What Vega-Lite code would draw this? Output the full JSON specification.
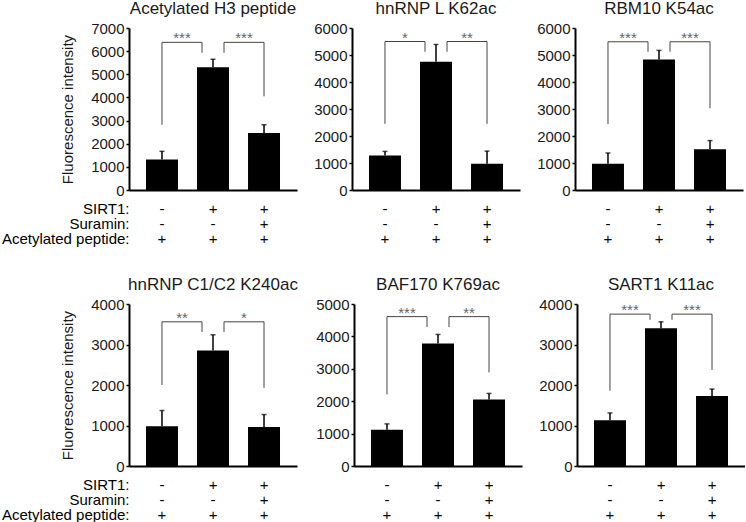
{
  "$schema": "https://vega.github.io/schema/vega-lite/v6.json",
  "background": "white",
  "padding": {"left": 1, "top": 0, "right": 0, "bottom": 0},
  "datasets": {
    "stats": [
      {"panel": "Acetylated H3 peptide", "kind": "bar", "condition": "control", "mean": 1320, "upper": 1670},
      {"panel": "Acetylated H3 peptide", "kind": "bar", "condition": "SIRT1", "mean": 5300, "upper": 5650},
      {"panel": "Acetylated H3 peptide", "kind": "bar", "condition": "SIRT1 + suramin", "mean": 2460, "upper": 2820},
      {"panel": "Acetylated H3 peptide", "kind": "bracket", "side": "left", "from": "control", "to": "SIRT1", "top": 6380, "lowFrom": 2820, "lowTo": 5930, "label": "***"},
      {"panel": "Acetylated H3 peptide", "kind": "bracket", "side": "right", "from": "SIRT1", "to": "SIRT1 + suramin", "top": 6380, "lowFrom": 5930, "lowTo": 4050, "label": "***"},
      {"panel": "hnRNP L K62ac", "kind": "bar", "condition": "control", "mean": 1280, "upper": 1430},
      {"panel": "hnRNP L K62ac", "kind": "bar", "condition": "SIRT1", "mean": 4750, "upper": 5390},
      {"panel": "hnRNP L K62ac", "kind": "bar", "condition": "SIRT1 + suramin", "mean": 970, "upper": 1440},
      {"panel": "hnRNP L K62ac", "kind": "bracket", "side": "left", "from": "control", "to": "SIRT1", "top": 5500, "lowFrom": 2450, "lowTo": 5120, "label": "*"},
      {"panel": "hnRNP L K62ac", "kind": "bracket", "side": "right", "from": "SIRT1", "to": "SIRT1 + suramin", "top": 5500, "lowFrom": 5120, "lowTo": 2450, "label": "**"},
      {"panel": "RBM10 K54ac", "kind": "bar", "condition": "control", "mean": 970, "upper": 1370},
      {"panel": "RBM10 K54ac", "kind": "bar", "condition": "SIRT1", "mean": 4830, "upper": 5170},
      {"panel": "RBM10 K54ac", "kind": "bar", "condition": "SIRT1 + suramin", "mean": 1510, "upper": 1830},
      {"panel": "RBM10 K54ac", "kind": "bracket", "side": "left", "from": "control", "to": "SIRT1", "top": 5490, "lowFrom": 2440, "lowTo": 5120, "label": "***"},
      {"panel": "RBM10 K54ac", "kind": "bracket", "side": "right", "from": "SIRT1", "to": "SIRT1 + suramin", "top": 5490, "lowFrom": 5120, "lowTo": 3030, "label": "***"},
      {"panel": "hnRNP C1/C2 K240ac", "kind": "bar", "condition": "control", "mean": 980, "upper": 1370},
      {"panel": "hnRNP C1/C2 K240ac", "kind": "bar", "condition": "SIRT1", "mean": 2850, "upper": 3240},
      {"panel": "hnRNP C1/C2 K240ac", "kind": "bar", "condition": "SIRT1 + suramin", "mean": 960, "upper": 1270},
      {"panel": "hnRNP C1/C2 K240ac", "kind": "bracket", "side": "left", "from": "control", "to": "SIRT1", "top": 3560, "lowFrom": 2000, "lowTo": 3310, "label": "**"},
      {"panel": "hnRNP C1/C2 K240ac", "kind": "bracket", "side": "right", "from": "SIRT1", "to": "SIRT1 + suramin", "top": 3560, "lowFrom": 3310, "lowTo": 1930, "label": "*"},
      {"panel": "BAF170 K769ac", "kind": "bar", "condition": "control", "mean": 1120, "upper": 1300},
      {"panel": "BAF170 K769ac", "kind": "bar", "condition": "SIRT1", "mean": 3780, "upper": 4060},
      {"panel": "BAF170 K769ac", "kind": "bar", "condition": "SIRT1 + suramin", "mean": 2050, "upper": 2240},
      {"panel": "BAF170 K769ac", "kind": "bracket", "side": "left", "from": "control", "to": "SIRT1", "top": 4610, "lowFrom": 2210, "lowTo": 4290, "label": "***"},
      {"panel": "BAF170 K769ac", "kind": "bracket", "side": "right", "from": "SIRT1", "to": "SIRT1 + suramin", "top": 4610, "lowFrom": 4290, "lowTo": 2890, "label": "**"},
      {"panel": "SART1 K11ac", "kind": "bar", "condition": "control", "mean": 1130, "upper": 1310},
      {"panel": "SART1 K11ac", "kind": "bar", "condition": "SIRT1", "mean": 3400, "upper": 3560},
      {"panel": "SART1 K11ac", "kind": "bar", "condition": "SIRT1 + suramin", "mean": 1730, "upper": 1900},
      {"panel": "SART1 K11ac", "kind": "bracket", "side": "left", "from": "control", "to": "SIRT1", "top": 3750, "lowFrom": 1860, "lowTo": 3610, "label": "***"},
      {"panel": "SART1 K11ac", "kind": "bracket", "side": "right", "from": "SIRT1", "to": "SIRT1 + suramin", "top": 3750, "lowFrom": 3610, "lowTo": 2370, "label": "***"}
    ],
    "table": [
      {"factor": "SIRT1", "condition": "control", "sign": "-"},
      {"factor": "SIRT1", "condition": "SIRT1", "sign": "+"},
      {"factor": "SIRT1", "condition": "SIRT1 + suramin", "sign": "+"},
      {"factor": "Suramin", "condition": "control", "sign": "-"},
      {"factor": "Suramin", "condition": "SIRT1", "sign": "-"},
      {"factor": "Suramin", "condition": "SIRT1 + suramin", "sign": "+"},
      {"factor": "Acetylated peptide", "condition": "control", "sign": "+"},
      {"factor": "Acetylated peptide", "condition": "SIRT1", "sign": "+"},
      {"factor": "Acetylated peptide", "condition": "SIRT1 + suramin", "sign": "+"}
    ]
  },
  "spacing": 29,
  "vconcat": [
    {
      "columns": 3,
      "align": "each",
      "spacing": {"row": 3, "column": 16},
      "concat": [
        {
          "title": "Acetylated H3 peptide",
          "width": 168, "height": 162,
          "data": {"name": "stats"},
          "transform": [{"filter": "datum.panel === 'Acetylated H3 peptide'"}],
          "layer": [
            {"transform": [{"filter": "datum.kind === 'bar'"}], "mark": {"type": "bar", "color": "black"},
             "encoding": {"x": {"field": "condition", "type": "nominal", "title": null, "scale": {"type": "band", "domain": ["control", "SIRT1", "SIRT1 + suramin"]}},
                          "y": {"field": "mean", "type": "quantitative", "title": "Fluorescence intensity", "scale": {"domain": [0, 7000]}}}},
            {"transform": [{"filter": "datum.kind === 'bar'"}], "mark": {"type": "rule", "color": "black", "strokeWidth": 1.5},
             "encoding": {"x": {"field": "condition", "type": "nominal", "title": null, "scale": {"type": "band", "domain": ["control", "SIRT1", "SIRT1 + suramin"]}},
                          "y": {"field": "mean", "type": "quantitative", "title": "Fluorescence intensity"}, "y2": {"field": "upper"}}},
            {"transform": [{"filter": "datum.kind === 'bar'"}], "mark": {"type": "tick", "color": "black", "thickness": 1.5, "size": 5, "orient": "horizontal"},
             "encoding": {"x": {"field": "condition", "type": "nominal", "title": null, "scale": {"type": "band", "domain": ["control", "SIRT1", "SIRT1 + suramin"]}},
                          "y": {"field": "upper", "type": "quantitative", "title": "Fluorescence intensity"}}},
            {"transform": [{"filter": "datum.kind === 'bracket'"}], "mark": {"type": "rule", "color": "#444", "strokeWidth": 1, "xOffset": {"expr": "datum.side === 'right' ? 11 : 0"}, "x2Offset": {"expr": "datum.side === 'left' ? -11 : 0"}},
             "encoding": {"x": {"field": "from", "type": "nominal", "title": null, "scale": {"type": "band", "domain": ["control", "SIRT1", "SIRT1 + suramin"]}}, "x2": {"field": "to"},
                          "y": {"field": "top", "type": "quantitative", "title": "Fluorescence intensity"}}},
            {"transform": [{"filter": "datum.kind === 'bracket'"}], "mark": {"type": "rule", "color": "#444", "strokeWidth": 1, "xOffset": {"expr": "datum.side === 'right' ? 11 : 0"}},
             "encoding": {"x": {"field": "from", "type": "nominal", "title": null, "scale": {"type": "band", "domain": ["control", "SIRT1", "SIRT1 + suramin"]}},
                          "y": {"field": "top", "type": "quantitative", "title": "Fluorescence intensity"}, "y2": {"field": "lowFrom"}}},
            {"transform": [{"filter": "datum.kind === 'bracket'"}], "mark": {"type": "rule", "color": "#444", "strokeWidth": 1, "xOffset": {"expr": "datum.side === 'left' ? -11 : 0"}},
             "encoding": {"x": {"field": "to", "type": "nominal", "title": null, "scale": {"type": "band", "domain": ["control", "SIRT1", "SIRT1 + suramin"]}},
                          "y": {"field": "top", "type": "quantitative", "title": "Fluorescence intensity"}, "y2": {"field": "lowTo"}}},
            {"transform": [{"filter": "datum.kind === 'bracket'"}], "mark": {"type": "text", "color": "#666", "fontSize": 15, "letterSpacing": 1.5, "baseline": "alphabetic", "dy": 1, "xOffset": {"expr": "datum.side === 'left' ? 20 : 31"}},
             "encoding": {"x": {"field": "from", "type": "nominal", "title": null, "scale": {"type": "band", "domain": ["control", "SIRT1", "SIRT1 + suramin"]}},
                          "y": {"field": "top", "type": "quantitative", "title": "Fluorescence intensity"}, "text": {"field": "label"}}}
          ]
        },
        {
          "title": "hnRNP L K62ac",
          "width": 168, "height": 162,
          "data": {"name": "stats"},
          "transform": [{"filter": "datum.panel === 'hnRNP L K62ac'"}],
          "layer": [
            {"transform": [{"filter": "datum.kind === 'bar'"}], "mark": {"type": "bar", "color": "black"},
             "encoding": {"x": {"field": "condition", "type": "nominal", "title": null, "scale": {"type": "band", "domain": ["control", "SIRT1", "SIRT1 + suramin"]}},
                          "y": {"field": "mean", "type": "quantitative", "title": null, "scale": {"domain": [0, 6000]}}}},
            {"transform": [{"filter": "datum.kind === 'bar'"}], "mark": {"type": "rule", "color": "black", "strokeWidth": 1.5},
             "encoding": {"x": {"field": "condition", "type": "nominal", "title": null, "scale": {"type": "band", "domain": ["control", "SIRT1", "SIRT1 + suramin"]}},
                          "y": {"field": "mean", "type": "quantitative", "title": null}, "y2": {"field": "upper"}}},
            {"transform": [{"filter": "datum.kind === 'bar'"}], "mark": {"type": "tick", "color": "black", "thickness": 1.5, "size": 5, "orient": "horizontal"},
             "encoding": {"x": {"field": "condition", "type": "nominal", "title": null, "scale": {"type": "band", "domain": ["control", "SIRT1", "SIRT1 + suramin"]}},
                          "y": {"field": "upper", "type": "quantitative", "title": null}}},
            {"transform": [{"filter": "datum.kind === 'bracket'"}], "mark": {"type": "rule", "color": "#444", "strokeWidth": 1, "xOffset": {"expr": "datum.side === 'right' ? 11 : 0"}, "x2Offset": {"expr": "datum.side === 'left' ? -11 : 0"}},
             "encoding": {"x": {"field": "from", "type": "nominal", "title": null, "scale": {"type": "band", "domain": ["control", "SIRT1", "SIRT1 + suramin"]}}, "x2": {"field": "to"},
                          "y": {"field": "top", "type": "quantitative", "title": null}}},
            {"transform": [{"filter": "datum.kind === 'bracket'"}], "mark": {"type": "rule", "color": "#444", "strokeWidth": 1, "xOffset": {"expr": "datum.side === 'right' ? 11 : 0"}},
             "encoding": {"x": {"field": "from", "type": "nominal", "title": null, "scale": {"type": "band", "domain": ["control", "SIRT1", "SIRT1 + suramin"]}},
                          "y": {"field": "top", "type": "quantitative", "title": null}, "y2": {"field": "lowFrom"}}},
            {"transform": [{"filter": "datum.kind === 'bracket'"}], "mark": {"type": "rule", "color": "#444", "strokeWidth": 1, "xOffset": {"expr": "datum.side === 'left' ? -11 : 0"}},
             "encoding": {"x": {"field": "to", "type": "nominal", "title": null, "scale": {"type": "band", "domain": ["control", "SIRT1", "SIRT1 + suramin"]}},
                          "y": {"field": "top", "type": "quantitative", "title": null}, "y2": {"field": "lowTo"}}},
            {"transform": [{"filter": "datum.kind === 'bracket'"}], "mark": {"type": "text", "color": "#666", "fontSize": 15, "letterSpacing": 1.5, "baseline": "alphabetic", "dy": 1, "xOffset": {"expr": "datum.side === 'left' ? 20 : 31"}},
             "encoding": {"x": {"field": "from", "type": "nominal", "title": null, "scale": {"type": "band", "domain": ["control", "SIRT1", "SIRT1 + suramin"]}},
                          "y": {"field": "top", "type": "quantitative", "title": null}, "text": {"field": "label"}}}
          ]
        },
        {
          "title": "RBM10 K54ac",
          "width": 168, "height": 162,
          "data": {"name": "stats"},
          "transform": [{"filter": "datum.panel === 'RBM10 K54ac'"}],
          "layer": [
            {"transform": [{"filter": "datum.kind === 'bar'"}], "mark": {"type": "bar", "color": "black"},
             "encoding": {"x": {"field": "condition", "type": "nominal", "title": null, "scale": {"type": "band", "domain": ["control", "SIRT1", "SIRT1 + suramin"]}},
                          "y": {"field": "mean", "type": "quantitative", "title": null, "scale": {"domain": [0, 6000]}}}},
            {"transform": [{"filter": "datum.kind === 'bar'"}], "mark": {"type": "rule", "color": "black", "strokeWidth": 1.5},
             "encoding": {"x": {"field": "condition", "type": "nominal", "title": null, "scale": {"type": "band", "domain": ["control", "SIRT1", "SIRT1 + suramin"]}},
                          "y": {"field": "mean", "type": "quantitative", "title": null}, "y2": {"field": "upper"}}},
            {"transform": [{"filter": "datum.kind === 'bar'"}], "mark": {"type": "tick", "color": "black", "thickness": 1.5, "size": 5, "orient": "horizontal"},
             "encoding": {"x": {"field": "condition", "type": "nominal", "title": null, "scale": {"type": "band", "domain": ["control", "SIRT1", "SIRT1 + suramin"]}},
                          "y": {"field": "upper", "type": "quantitative", "title": null}}},
            {"transform": [{"filter": "datum.kind === 'bracket'"}], "mark": {"type": "rule", "color": "#444", "strokeWidth": 1, "xOffset": {"expr": "datum.side === 'right' ? 11 : 0"}, "x2Offset": {"expr": "datum.side === 'left' ? -11 : 0"}},
             "encoding": {"x": {"field": "from", "type": "nominal", "title": null, "scale": {"type": "band", "domain": ["control", "SIRT1", "SIRT1 + suramin"]}}, "x2": {"field": "to"},
                          "y": {"field": "top", "type": "quantitative", "title": null}}},
            {"transform": [{"filter": "datum.kind === 'bracket'"}], "mark": {"type": "rule", "color": "#444", "strokeWidth": 1, "xOffset": {"expr": "datum.side === 'right' ? 11 : 0"}},
             "encoding": {"x": {"field": "from", "type": "nominal", "title": null, "scale": {"type": "band", "domain": ["control", "SIRT1", "SIRT1 + suramin"]}},
                          "y": {"field": "top", "type": "quantitative", "title": null}, "y2": {"field": "lowFrom"}}},
            {"transform": [{"filter": "datum.kind === 'bracket'"}], "mark": {"type": "rule", "color": "#444", "strokeWidth": 1, "xOffset": {"expr": "datum.side === 'left' ? -11 : 0"}},
             "encoding": {"x": {"field": "to", "type": "nominal", "title": null, "scale": {"type": "band", "domain": ["control", "SIRT1", "SIRT1 + suramin"]}},
                          "y": {"field": "top", "type": "quantitative", "title": null}, "y2": {"field": "lowTo"}}},
            {"transform": [{"filter": "datum.kind === 'bracket'"}], "mark": {"type": "text", "color": "#666", "fontSize": 15, "letterSpacing": 1.5, "baseline": "alphabetic", "dy": 1, "xOffset": {"expr": "datum.side === 'left' ? 20 : 31"}},
             "encoding": {"x": {"field": "from", "type": "nominal", "title": null, "scale": {"type": "band", "domain": ["control", "SIRT1", "SIRT1 + suramin"]}},
                          "y": {"field": "top", "type": "quantitative", "title": null}, "text": {"field": "label"}}}
          ]
        },
        {
          "width": 168, "height": 45,
          "data": {"name": "table"},
          "mark": {"type": "text", "fontSize": 15, "color": "black"},
          "encoding": {
            "x": {"field": "condition", "type": "nominal", "axis": null, "scale": {"type": "band", "domain": ["control", "SIRT1", "SIRT1 + suramin"]}},
            "y": {"field": "factor", "type": "nominal", "scale": {"domain": ["SIRT1", "Suramin", "Acetylated peptide"]}, "axis": {"title": null, "domain": false, "ticks": false, "tickSize": 0, "labelPadding": 0, "labelOverlap": false, "labelColor": "black", "labelExpr": "datum.value + ':'"}},
            "text": {"field": "sign"}
          }
        },
        {
          "width": 168, "height": 45,
          "data": {"name": "table"},
          "mark": {"type": "text", "fontSize": 15, "color": "black"},
          "encoding": {
            "x": {"field": "condition", "type": "nominal", "axis": null, "scale": {"type": "band", "domain": ["control", "SIRT1", "SIRT1 + suramin"]}},
            "y": {"field": "factor", "type": "nominal", "scale": {"domain": ["SIRT1", "Suramin", "Acetylated peptide"]}, "axis": null},
            "text": {"field": "sign"}
          }
        },
        {
          "width": 168, "height": 45,
          "data": {"name": "table"},
          "mark": {"type": "text", "fontSize": 15, "color": "black"},
          "encoding": {
            "x": {"field": "condition", "type": "nominal", "axis": null, "scale": {"type": "band", "domain": ["control", "SIRT1", "SIRT1 + suramin"]}},
            "y": {"field": "factor", "type": "nominal", "scale": {"domain": ["SIRT1", "Suramin", "Acetylated peptide"]}, "axis": null},
            "text": {"field": "sign"}
          }
        }
      ]
    },
    {
      "columns": 3,
      "align": "each",
      "spacing": {"row": 3, "column": 16},
      "concat": [
        {
          "title": "hnRNP C1/C2 K240ac",
          "width": 168, "height": 162,
          "data": {"name": "stats"},
          "transform": [{"filter": "datum.panel === 'hnRNP C1/C2 K240ac'"}],
          "layer": [
            {"transform": [{"filter": "datum.kind === 'bar'"}], "mark": {"type": "bar", "color": "black"},
             "encoding": {"x": {"field": "condition", "type": "nominal", "title": null, "scale": {"type": "band", "domain": ["control", "SIRT1", "SIRT1 + suramin"]}},
                          "y": {"field": "mean", "type": "quantitative", "title": "Fluorescence intensity", "scale": {"domain": [0, 4000]}}}},
            {"transform": [{"filter": "datum.kind === 'bar'"}], "mark": {"type": "rule", "color": "black", "strokeWidth": 1.5},
             "encoding": {"x": {"field": "condition", "type": "nominal", "title": null, "scale": {"type": "band", "domain": ["control", "SIRT1", "SIRT1 + suramin"]}},
                          "y": {"field": "mean", "type": "quantitative", "title": "Fluorescence intensity"}, "y2": {"field": "upper"}}},
            {"transform": [{"filter": "datum.kind === 'bar'"}], "mark": {"type": "tick", "color": "black", "thickness": 1.5, "size": 5, "orient": "horizontal"},
             "encoding": {"x": {"field": "condition", "type": "nominal", "title": null, "scale": {"type": "band", "domain": ["control", "SIRT1", "SIRT1 + suramin"]}},
                          "y": {"field": "upper", "type": "quantitative", "title": "Fluorescence intensity"}}},
            {"transform": [{"filter": "datum.kind === 'bracket'"}], "mark": {"type": "rule", "color": "#444", "strokeWidth": 1, "xOffset": {"expr": "datum.side === 'right' ? 11 : 0"}, "x2Offset": {"expr": "datum.side === 'left' ? -11 : 0"}},
             "encoding": {"x": {"field": "from", "type": "nominal", "title": null, "scale": {"type": "band", "domain": ["control", "SIRT1", "SIRT1 + suramin"]}}, "x2": {"field": "to"},
                          "y": {"field": "top", "type": "quantitative", "title": "Fluorescence intensity"}}},
            {"transform": [{"filter": "datum.kind === 'bracket'"}], "mark": {"type": "rule", "color": "#444", "strokeWidth": 1, "xOffset": {"expr": "datum.side === 'right' ? 11 : 0"}},
             "encoding": {"x": {"field": "from", "type": "nominal", "title": null, "scale": {"type": "band", "domain": ["control", "SIRT1", "SIRT1 + suramin"]}},
                          "y": {"field": "top", "type": "quantitative", "title": "Fluorescence intensity"}, "y2": {"field": "lowFrom"}}},
            {"transform": [{"filter": "datum.kind === 'bracket'"}], "mark": {"type": "rule", "color": "#444", "strokeWidth": 1, "xOffset": {"expr": "datum.side === 'left' ? -11 : 0"}},
             "encoding": {"x": {"field": "to", "type": "nominal", "title": null, "scale": {"type": "band", "domain": ["control", "SIRT1", "SIRT1 + suramin"]}},
                          "y": {"field": "top", "type": "quantitative", "title": "Fluorescence intensity"}, "y2": {"field": "lowTo"}}},
            {"transform": [{"filter": "datum.kind === 'bracket'"}], "mark": {"type": "text", "color": "#666", "fontSize": 15, "letterSpacing": 1.5, "baseline": "alphabetic", "dy": 1, "xOffset": {"expr": "datum.side === 'left' ? 20 : 31"}},
             "encoding": {"x": {"field": "from", "type": "nominal", "title": null, "scale": {"type": "band", "domain": ["control", "SIRT1", "SIRT1 + suramin"]}},
                          "y": {"field": "top", "type": "quantitative", "title": "Fluorescence intensity"}, "text": {"field": "label"}}}
          ]
        },
        {
          "title": "BAF170 K769ac",
          "width": 168, "height": 162,
          "data": {"name": "stats"},
          "transform": [{"filter": "datum.panel === 'BAF170 K769ac'"}],
          "layer": [
            {"transform": [{"filter": "datum.kind === 'bar'"}], "mark": {"type": "bar", "color": "black"},
             "encoding": {"x": {"field": "condition", "type": "nominal", "title": null, "scale": {"type": "band", "domain": ["control", "SIRT1", "SIRT1 + suramin"]}},
                          "y": {"field": "mean", "type": "quantitative", "title": null, "scale": {"domain": [0, 5000]}}}},
            {"transform": [{"filter": "datum.kind === 'bar'"}], "mark": {"type": "rule", "color": "black", "strokeWidth": 1.5},
             "encoding": {"x": {"field": "condition", "type": "nominal", "title": null, "scale": {"type": "band", "domain": ["control", "SIRT1", "SIRT1 + suramin"]}},
                          "y": {"field": "mean", "type": "quantitative", "title": null}, "y2": {"field": "upper"}}},
            {"transform": [{"filter": "datum.kind === 'bar'"}], "mark": {"type": "tick", "color": "black", "thickness": 1.5, "size": 5, "orient": "horizontal"},
             "encoding": {"x": {"field": "condition", "type": "nominal", "title": null, "scale": {"type": "band", "domain": ["control", "SIRT1", "SIRT1 + suramin"]}},
                          "y": {"field": "upper", "type": "quantitative", "title": null}}},
            {"transform": [{"filter": "datum.kind === 'bracket'"}], "mark": {"type": "rule", "color": "#444", "strokeWidth": 1, "xOffset": {"expr": "datum.side === 'right' ? 11 : 0"}, "x2Offset": {"expr": "datum.side === 'left' ? -11 : 0"}},
             "encoding": {"x": {"field": "from", "type": "nominal", "title": null, "scale": {"type": "band", "domain": ["control", "SIRT1", "SIRT1 + suramin"]}}, "x2": {"field": "to"},
                          "y": {"field": "top", "type": "quantitative", "title": null}}},
            {"transform": [{"filter": "datum.kind === 'bracket'"}], "mark": {"type": "rule", "color": "#444", "strokeWidth": 1, "xOffset": {"expr": "datum.side === 'right' ? 11 : 0"}},
             "encoding": {"x": {"field": "from", "type": "nominal", "title": null, "scale": {"type": "band", "domain": ["control", "SIRT1", "SIRT1 + suramin"]}},
                          "y": {"field": "top", "type": "quantitative", "title": null}, "y2": {"field": "lowFrom"}}},
            {"transform": [{"filter": "datum.kind === 'bracket'"}], "mark": {"type": "rule", "color": "#444", "strokeWidth": 1, "xOffset": {"expr": "datum.side === 'left' ? -11 : 0"}},
             "encoding": {"x": {"field": "to", "type": "nominal", "title": null, "scale": {"type": "band", "domain": ["control", "SIRT1", "SIRT1 + suramin"]}},
                          "y": {"field": "top", "type": "quantitative", "title": null}, "y2": {"field": "lowTo"}}},
            {"transform": [{"filter": "datum.kind === 'bracket'"}], "mark": {"type": "text", "color": "#666", "fontSize": 15, "letterSpacing": 1.5, "baseline": "alphabetic", "dy": 1, "xOffset": {"expr": "datum.side === 'left' ? 20 : 31"}},
             "encoding": {"x": {"field": "from", "type": "nominal", "title": null, "scale": {"type": "band", "domain": ["control", "SIRT1", "SIRT1 + suramin"]}},
                          "y": {"field": "top", "type": "quantitative", "title": null}, "text": {"field": "label"}}}
          ]
        },
        {
          "title": "SART1 K11ac",
          "width": 168, "height": 162,
          "data": {"name": "stats"},
          "transform": [{"filter": "datum.panel === 'SART1 K11ac'"}],
          "layer": [
            {"transform": [{"filter": "datum.kind === 'bar'"}], "mark": {"type": "bar", "color": "black"},
             "encoding": {"x": {"field": "condition", "type": "nominal", "title": null, "scale": {"type": "band", "domain": ["control", "SIRT1", "SIRT1 + suramin"]}},
                          "y": {"field": "mean", "type": "quantitative", "title": null, "scale": {"domain": [0, 4000]}}}},
            {"transform": [{"filter": "datum.kind === 'bar'"}], "mark": {"type": "rule", "color": "black", "strokeWidth": 1.5},
             "encoding": {"x": {"field": "condition", "type": "nominal", "title": null, "scale": {"type": "band", "domain": ["control", "SIRT1", "SIRT1 + suramin"]}},
                          "y": {"field": "mean", "type": "quantitative", "title": null}, "y2": {"field": "upper"}}},
            {"transform": [{"filter": "datum.kind === 'bar'"}], "mark": {"type": "tick", "color": "black", "thickness": 1.5, "size": 5, "orient": "horizontal"},
             "encoding": {"x": {"field": "condition", "type": "nominal", "title": null, "scale": {"type": "band", "domain": ["control", "SIRT1", "SIRT1 + suramin"]}},
                          "y": {"field": "upper", "type": "quantitative", "title": null}}},
            {"transform": [{"filter": "datum.kind === 'bracket'"}], "mark": {"type": "rule", "color": "#444", "strokeWidth": 1, "xOffset": {"expr": "datum.side === 'right' ? 11 : 0"}, "x2Offset": {"expr": "datum.side === 'left' ? -11 : 0"}},
             "encoding": {"x": {"field": "from", "type": "nominal", "title": null, "scale": {"type": "band", "domain": ["control", "SIRT1", "SIRT1 + suramin"]}}, "x2": {"field": "to"},
                          "y": {"field": "top", "type": "quantitative", "title": null}}},
            {"transform": [{"filter": "datum.kind === 'bracket'"}], "mark": {"type": "rule", "color": "#444", "strokeWidth": 1, "xOffset": {"expr": "datum.side === 'right' ? 11 : 0"}},
             "encoding": {"x": {"field": "from", "type": "nominal", "title": null, "scale": {"type": "band", "domain": ["control", "SIRT1", "SIRT1 + suramin"]}},
                          "y": {"field": "top", "type": "quantitative", "title": null}, "y2": {"field": "lowFrom"}}},
            {"transform": [{"filter": "datum.kind === 'bracket'"}], "mark": {"type": "rule", "color": "#444", "strokeWidth": 1, "xOffset": {"expr": "datum.side === 'left' ? -11 : 0"}},
             "encoding": {"x": {"field": "to", "type": "nominal", "title": null, "scale": {"type": "band", "domain": ["control", "SIRT1", "SIRT1 + suramin"]}},
                          "y": {"field": "top", "type": "quantitative", "title": null}, "y2": {"field": "lowTo"}}},
            {"transform": [{"filter": "datum.kind === 'bracket'"}], "mark": {"type": "text", "color": "#666", "fontSize": 15, "letterSpacing": 1.5, "baseline": "alphabetic", "dy": 1, "xOffset": {"expr": "datum.side === 'left' ? 20 : 31"}},
             "encoding": {"x": {"field": "from", "type": "nominal", "title": null, "scale": {"type": "band", "domain": ["control", "SIRT1", "SIRT1 + suramin"]}},
                          "y": {"field": "top", "type": "quantitative", "title": null}, "text": {"field": "label"}}}
          ]
        },
        {
          "width": 168, "height": 45,
          "data": {"name": "table"},
          "mark": {"type": "text", "fontSize": 15, "color": "black"},
          "encoding": {
            "x": {"field": "condition", "type": "nominal", "axis": null, "scale": {"type": "band", "domain": ["control", "SIRT1", "SIRT1 + suramin"]}},
            "y": {"field": "factor", "type": "nominal", "scale": {"domain": ["SIRT1", "Suramin", "Acetylated peptide"]}, "axis": {"title": null, "domain": false, "ticks": false, "tickSize": 0, "labelPadding": 0, "labelOverlap": false, "labelColor": "black", "labelExpr": "datum.value + ':'"}},
            "text": {"field": "sign"}
          }
        },
        {
          "width": 168, "height": 45,
          "data": {"name": "table"},
          "mark": {"type": "text", "fontSize": 15, "color": "black"},
          "encoding": {
            "x": {"field": "condition", "type": "nominal", "axis": null, "scale": {"type": "band", "domain": ["control", "SIRT1", "SIRT1 + suramin"]}},
            "y": {"field": "factor", "type": "nominal", "scale": {"domain": ["SIRT1", "Suramin", "Acetylated peptide"]}, "axis": null},
            "text": {"field": "sign"}
          }
        },
        {
          "width": 168, "height": 45,
          "data": {"name": "table"},
          "mark": {"type": "text", "fontSize": 15, "color": "black"},
          "encoding": {
            "x": {"field": "condition", "type": "nominal", "axis": null, "scale": {"type": "band", "domain": ["control", "SIRT1", "SIRT1 + suramin"]}},
            "y": {"field": "factor", "type": "nominal", "scale": {"domain": ["SIRT1", "Suramin", "Acetylated peptide"]}, "axis": null},
            "text": {"field": "sign"}
          }
        }
      ]
    }
  ],
  "config": {
    "font": "Liberation Sans",
    "view": {"stroke": null},
    "scale": {"bandPaddingInner": 0.373, "bandPaddingOuter": 0.333},
    "axis": {"grid": false, "domainColor": "black", "domainWidth": 2, "tickColor": "black", "tickSize": 3, "tickWidth": 1.5, "labelFont": "Liberation Sans", "labelFontSize": 15, "labelColor": "#1a1a1a", "labelPadding": 2, "titleFont": "Liberation Sans", "titleFontSize": 15, "titleFontWeight": "normal", "titleColor": "#1a1a1a", "titlePadding": 15},
    "axisX": {"labels": false, "ticks": false, "tickSize": 0, "labelPadding": 0, "minExtent": 0, "maxExtent": 0},
    "axisY": {"tickCount": 8, "tickMinStep": 1000, "format": "d"},
    "title": {"font": "Liberation Sans", "fontSize": 17, "fontWeight": "normal", "color": "#1a1a1a", "offset": 3},
    "text": {"font": "Liberation Sans"}
  }
}
